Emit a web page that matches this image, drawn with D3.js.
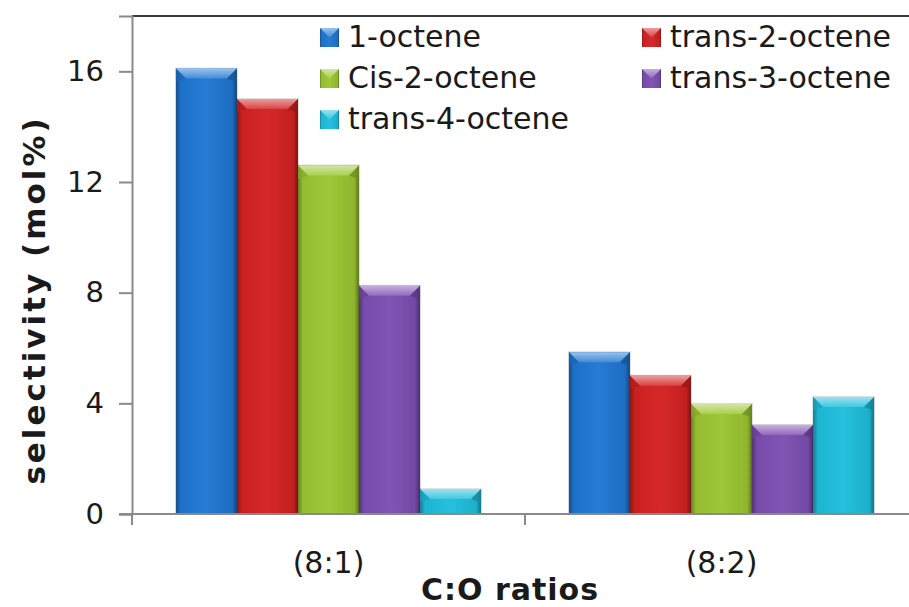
<!DOCTYPE html>
<html>
<head>
<meta charset="utf-8">
<script src="https://cdn.jsdelivr.net/npm/d3@7"></script>
<style>
  html, body { margin: 0; padding: 0; background: #fff; }
  svg { display: block; }
  text { font-family: "DejaVu Sans", Verdana, sans-serif; fill: #1a1a1a; }
</style>
</head>
<body>
<svg id="chart" width="909" height="607"></svg>
<script>
// Selectivity of octene isomers at two C:O ratios
const categories = ["(8:1)", "(8:2)"];
const seriesNames = ["1-octene", "trans-2-octene", "Cis-2-octene", "trans-3-octene", "trans-4-octene"];
const oct1 = [16.1, 5.85];
const trans2 = [15.0, 5.0];
const cis2 = [12.6, 3.98];
const trans3 = [8.25, 3.22];
const trans4 = [0.9, 4.23];
const yTicks = [0, 4, 8, 12, 16];
const colors = ["#2077d2", "#d42222", "#9cc632", "#7c4fb2", "#1ebedc"];

const seriesValues = [oct1, trans2, cis2, trans3, trans4];

const svg = d3.select("#chart");
const margin = { left: 132, top: 16, right: -9, bottom: 93 };
const W = 909, H = 607;
const plotW = W - margin.left - margin.right; // extends past the right edge
const plotH = H - margin.top - margin.bottom;

const defs = svg.append("defs");

function shade(c, k) {
  const col = d3.rgb(c);
  return k >= 0 ? d3.interpolateRgb(col, "#ffffff")(k) : d3.interpolateRgb(col, "#000000")(-k);
}

// Horizontal body gradient and top bevel gradient per colour
colors.forEach((c, i) => {
  const g = defs.append("linearGradient").attr("id", "body" + i)
    .attr("x1", 0).attr("x2", 1).attr("y1", 0).attr("y2", 0);
  g.append("stop").attr("offset", 0).attr("stop-color", shade(c, -0.35));
  g.append("stop").attr("offset", 0.08).attr("stop-color", shade(c, -0.05));
  g.append("stop").attr("offset", 0.5).attr("stop-color", shade(c, 0.03));
  g.append("stop").attr("offset", 0.92).attr("stop-color", shade(c, -0.08));
  g.append("stop").attr("offset", 1).attr("stop-color", shade(c, -0.4));

  const t = defs.append("linearGradient").attr("id", "top" + i)
    .attr("x1", 0).attr("x2", 0).attr("y1", 0).attr("y2", 1);
  t.append("stop").attr("offset", 0).attr("stop-color", shade(c, 0.55));
  t.append("stop").attr("offset", 1).attr("stop-color", shade(c, 0.15));
});

const g = svg.append("g").attr("transform", `translate(${margin.left},${margin.top})`);

const x0 = d3.scaleBand().domain(categories).range([0, plotW]).paddingInner(0).paddingOuter(0);
const x1 = d3.scaleBand().domain(seriesNames).range([0, x0.bandwidth()]).paddingInner(0).paddingOuter(0.72);
const y = d3.scaleLinear().domain([0, 18]).range([plotH, 0]);

// Plot area top border
g.append("line").attr("x1", 0).attr("x2", plotW).attr("y1", 0).attr("y2", 0)
  .attr("stroke", "#3a3a3a").attr("stroke-width", 2);

// Bars
const bevel = 10;
categories.forEach((cat, ci) => {
  seriesNames.forEach((s, si) => {
    const v = seriesValues[si][ci];
    const bx = x0(cat) + x1(s);
    const bw = x1.bandwidth();
    const by = y(v);
    const bh = y(0) - y(v);
    const bg = g.append("g");
    // soft shadow
    bg.append("rect").attr("x", bx - 1).attr("y", by - 1).attr("width", bw + 2).attr("height", bh + 1)
      .attr("fill", "#000").attr("opacity", 0.12);
    bg.append("rect").attr("x", bx).attr("y", by).attr("width", bw).attr("height", bh)
      .attr("fill", `url(#body${si})`);
    const b = Math.min(bevel, bh / 2);
    // top bevel
    bg.append("path")
      .attr("d", `M${bx},${by} L${bx + bw},${by} L${bx + bw - b},${by + b} L${bx + b},${by + b} Z`)
      .attr("fill", `url(#top${si})`);
    // bevel sides
    bg.append("path")
      .attr("d", `M${bx},${by} L${bx + b},${by + b} L${bx + 2},${by + b + 3} L${bx},${by + b + 3} Z`)
      .attr("fill", shade(colors[si], -0.15)).attr("opacity", 0.7);
    bg.append("path")
      .attr("d", `M${bx + bw},${by} L${bx + bw - b},${by + b} L${bx + bw - 2},${by + b + 3} L${bx + bw},${by + b + 3} Z`)
      .attr("fill", shade(colors[si], -0.3)).attr("opacity", 0.7);
  });
});

// Y axis
const yAxis = d3.axisLeft(y).tickValues(yTicks).tickSize(13).tickPadding(15);
const ya = g.append("g").call(yAxis);
ya.select(".domain").attr("stroke", "#8a8a8a").attr("stroke-width", 2);
ya.selectAll(".tick line").attr("stroke", "#8a8a8a").attr("stroke-width", 2);
ya.selectAll(".tick text").style("font-size", "29px").attr("fill", "#1a1a1a")
  .style("font-family", "'DejaVu Sans', Verdana, sans-serif");

// X axis with boundary ticks between categories
const xa = g.append("g").attr("transform", `translate(0,${plotH})`);
xa.append("line").attr("x1", -13).attr("x2", plotW).attr("y1", 0).attr("y2", 0)
  .attr("stroke", "#8a8a8a").attr("stroke-width", 2);
const bounds = categories.map(c => x0(c)).concat([x0(categories[categories.length - 1]) + x0.bandwidth()]);
xa.selectAll("line.bt").data(bounds).enter().append("line").attr("class", "bt")
  .attr("x1", d => d).attr("x2", d => d).attr("y1", 0).attr("y2", 11)
  .attr("stroke", "#8a8a8a").attr("stroke-width", 2);
xa.selectAll("text.cat").data(categories).enter().append("text").attr("class", "cat")
  .attr("x", d => x0(d) + x0.bandwidth() / 2).attr("y", 59)
  .attr("text-anchor", "middle").style("font-size", "30px").text(d => d);

// Axis titles
svg.append("text").attr("x", 510).attr("y", 600).attr("text-anchor", "middle")
  .style("font-family", "'DejaVu Sans', Verdana, sans-serif").style("font-weight", "bold")
  .style("font-size", "30px").style("letter-spacing", "1px").text("C:O ratios");
svg.append("text").attr("transform", "translate(45,300) rotate(-90)").attr("text-anchor", "middle")
  .style("font-family", "'DejaVu Sans', Verdana, sans-serif").style("font-weight", "bold")
  .style("font-size", "31px").style("letter-spacing", "3px").text("selectivity (mol%)");

// Legend
const legendPos = [[320, 47], [642, 47], [320, 88], [642, 88], [320, 129]];
seriesNames.forEach((s, i) => {
  const [lx, ly] = legendPos[i];
  const lg = svg.append("g").attr("transform", `translate(${lx},${ly})`);
  const m = 19;
  lg.append("rect").attr("x", 0).attr("y", -m).attr("width", m).attr("height", m)
    .attr("fill", `url(#body${i})`);
  lg.append("path").attr("d", `M0,${-m} L${m},${-m} L${m / 2},${-m / 2} Z`)
    .attr("fill", `url(#top${i})`);
  lg.append("text").attr("x", m + 9).attr("y", 0)
    .style("font-size", "30px").text(s);
});
</script>
</body>
</html>
